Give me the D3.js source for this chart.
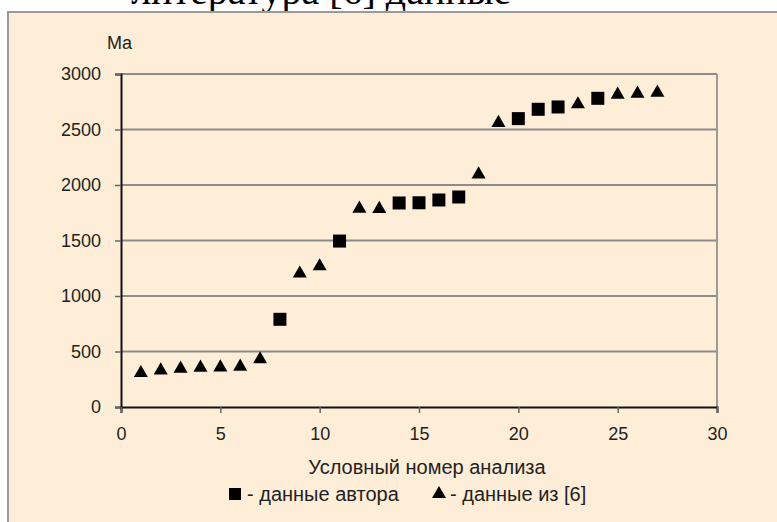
<!DOCTYPE html>
<html><head><meta charset="utf-8">
<script src="https://cdn.jsdelivr.net/npm/d3@7"></script>
<style>html,body{margin:0;padding:0;background:#fff;}svg{display:block;}</style>
</head><body>
<svg id="c" width="777" height="522"></svg>
<script>
// Data
const authorX = [8, 11, 14, 15, 16, 17, 20, 21, 22, 24];
const authorY = [790, 1495, 1838, 1840, 1865, 1892, 2598, 2682, 2703, 2781];
const refX = [1, 2, 3, 4, 5, 6, 7, 9, 10, 12, 13, 18, 19, 23, 25, 26, 27];
const refY = [306, 330, 346, 355, 357, 363, 430, 1202, 1268, 1787, 1785, 2096, 2559, 2727, 2814, 2823, 2832];
const xTicks = [0, 5, 10, 15, 20, 25, 30];
const yTicks = [0, 500, 1000, 1500, 2000, 2500, 3000];
const xTitle = "Условный номер анализа";
const yUnit = "Ma";
const legendLabels = ["- данные автора", "- данные из [6]"];
const captionHidden = "лит";
const captionShown = "ература [6] данные";

const svg = d3.select("#c");
const font = "'Liberation Sans', Arial, sans-serif";

// caption above panel (mostly hidden by the panel, as in the source)
const capFont = "'Liberation Serif','Times New Roman',serif";
const capSize = 40;
const probe = svg.append("text").attr("font-family", capFont).attr("font-size", capSize).text(captionHidden);
const hiddenW = probe.node().getComputedTextLength();
probe.remove();
svg.append("text").attr("x", 190 - hiddenW).attr("y", 4).attr("font-family", capFont)
  .attr("font-size", capSize).attr("fill", "#000").text(captionHidden + captionShown);

// panel
svg.append("rect").attr("x", 8).attr("y", 12).attr("width", 790).attr("height", 530)
  .attr("fill", "#FFEED7").attr("stroke", "#9a9a9a").attr("stroke-width", 2);

const x = d3.scaleLinear().domain([0, 30]).range([121, 717]);
const y = d3.scaleLinear().domain([0, 3000]).range([407, 74]);

// gridlines
svg.append("g").selectAll("line").data(yTicks.filter(d => d > 0)).join("line")
  .attr("x1", x(0)).attr("x2", x(30)).attr("y1", d => y(d)).attr("y2", d => y(d))
  .attr("stroke", "#8c8c8c").attr("stroke-width", 2);
// right border
svg.append("line").attr("x1", x(30)).attr("x2", x(30)).attr("y1", y(3000)).attr("y2", y(0))
  .attr("stroke", "#9a9a9a").attr("stroke-width", 2);

// y axis
const yAxis = svg.append("g").attr("transform", `translate(${x(0)},0)`)
  .call(d3.axisLeft(y).tickValues(yTicks).tickSize(6).tickPadding(14).tickFormat(d3.format("d")));
yAxis.select(".domain").attr("stroke", "#111").attr("stroke-width", 2);
yAxis.selectAll(".tick line").attr("stroke", "#666").attr("stroke-width", 1.5);
yAxis.selectAll("text").attr("font-family", font).attr("font-size", 18).attr("fill", "#222");

// x axis
const xAxis = svg.append("g").attr("transform", `translate(0,${y(0)})`)
  .call(d3.axisBottom(x).tickValues(xTicks).tickSize(6).tickPadding(14));
xAxis.select(".domain").attr("stroke", "#111").attr("stroke-width", 2);
xAxis.selectAll(".tick line").attr("stroke", "#666").attr("stroke-width", 1.5);
xAxis.selectAll("text").attr("font-family", font).attr("font-size", 18).attr("fill", "#222");

// unit label
svg.append("text").attr("x", 107).attr("y", 49).attr("font-family", font).attr("font-size", 18)
  .attr("fill", "#222").text(yUnit);

// x title
svg.append("text").attr("x", 427).attr("y", 474).attr("text-anchor", "middle")
  .attr("font-family", font).attr("font-size", 20).attr("fill", "#222").text(xTitle);

// markers
const sq = 13;
svg.append("g").selectAll("rect").data(authorX.map((d, i) => [d, authorY[i]])).join("rect")
  .attr("x", d => x(d[0]) - sq / 2).attr("y", d => y(d[1]) - sq / 2)
  .attr("width", sq).attr("height", sq).attr("fill", "#000");
const tri = d3.symbol().type(d3.symbolTriangle).size(85);
svg.append("g").selectAll("path").data(refX.map((d, i) => [d, refY[i]])).join("path")
  .attr("d", tri).attr("transform", d => `translate(${x(d[0])},${y(d[1])})`).attr("fill", "#000");

// legend
const lg = svg.append("g");
lg.append("rect").attr("x", 229).attr("y", 488).attr("width", 12).attr("height", 12).attr("fill", "#000");
lg.append("text").attr("x", 247).attr("y", 501).attr("font-family", font).attr("font-size", 20)
  .attr("fill", "#222").text(legendLabels[0]);
lg.append("path").attr("d", tri).attr("transform", "translate(439,494)").attr("fill", "#000");
lg.append("text").attr("x", 450).attr("y", 501).attr("font-family", font).attr("font-size", 20)
  .attr("fill", "#222").text(legendLabels[1]);
</script>
</body></html>
